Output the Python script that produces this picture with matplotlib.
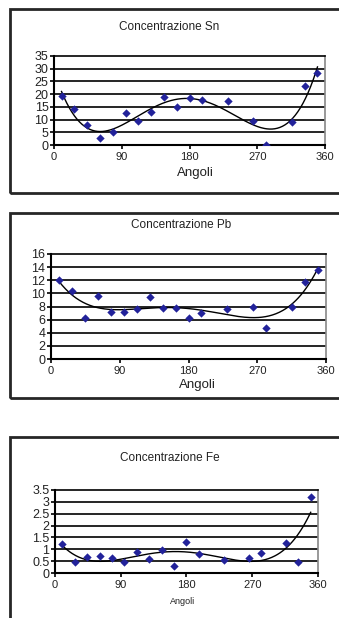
import numpy as np
import matplotlib
matplotlib.use('Agg')
import matplotlib.pyplot as plt
from matplotlib.patches import Rectangle

plt.rcParams['font.family'] = ['Liberation Sans', 'DejaVu Sans']

# ── data ──
angoli = [10, 27, 44, 61, 78, 95, 112, 129, 146, 163, 180, 197, 231, 265, 282, 316, 333, 350]
sn = [19.3, 14.2, 7.9, 2.7, 5.0, 12.7, 9.3, 13.0, 18.8, 15.0, 18.3, 17.8, 17.3, 9.5, 0.0, 9.2, 23.3, 28.2]
pb = [12.1, 10.4, 6.2, 9.6, 7.2, 7.1, 7.6, 9.4, 7.7, 7.8, 6.2, 7.0, 7.6, 8.0, 4.7, 7.9, 11.8, 13.5]
fe = [1.23, 0.45, 0.67, 0.71, 0.64, 0.48, 0.87, 0.60, 0.98, 0.31, 1.30, 0.80, 0.55, 0.64, 0.84, 1.26, 0.46, 3.22]

x_ticks = [0, 90, 180, 270, 360]
sn_ticks = [0, 5, 10, 15, 20, 25, 30, 35]
pb_ticks = [0, 2, 4, 6, 8, 10, 12, 14, 16]
fe_ticks = [0, 0.5, 1, 1.5, 2, 2.5, 3, 3.5]
fe_labels = ['0', '0.5', '1', '1.5', '2', '2.5', '3', '3.5']

W, H = 339, 618
fig = plt.figure(figsize=(W / 100, H / 100), dpi=100)
fig.patch.set_facecolor('white')


def px_axes(left, right, top, bottom):
    return fig.add_axes([left / W, 1 - bottom / H, (right - left) / W, (bottom - top) / H])


def frame(top, bottom):
    fig.patches.append(Rectangle((10 / W, 1 - bottom / H), 340 / W, (bottom - top) / H,
                                 transform=fig.transFigure, fill=False,
                                 edgecolor='#262626', linewidth=2.0))


def chart(box, vals, yticks, ylabels, title, title_xy, xlab_xy, xlab_size, degree=4):
    ax = px_axes(*box)
    ax.set_xlim(0, 360)
    ax.set_ylim(yticks[0], yticks[-1])
    ax.set_xticks(x_ticks)
    ax.set_yticks(yticks)
    ax.set_yticklabels(ylabels)
    ax.tick_params(axis='y', labelsize=9, length=3, width=1.2, pad=1, direction='out',
                   labelcolor='#222222')
    ax.tick_params(axis='x', labelsize=8, length=3, width=1.2, pad=2, direction='out',
                   labelcolor='#222222')
    for y in yticks[1:-1]:
        ax.axhline(y, color='black', linewidth=1.2, zorder=1)
    ax.spines['left'].set_linewidth(1.5)
    ax.spines['bottom'].set_linewidth(1.5)
    ax.spines['top'].set_linewidth(1.2)
    ax.spines['right'].set_color('#888888')
    ax.spines['right'].set_linewidth(1.2)

    ax.scatter(angoli, vals, marker='D', s=18, color='#22229a', zorder=3, linewidths=0)
    # polynomial trendline (order 4)
    coef = np.polyfit(angoli, vals, degree)
    xs = np.linspace(angoli[0], angoli[-1], 300)
    ax.plot(xs, np.polyval(coef, xs), color='black', linewidth=1.0, zorder=2)

    fig.text(title_xy[0] / W, 1 - title_xy[1] / H, title, fontsize=8.5,
             ha='center', va='center', color='#222222')
    fig.text(xlab_xy[0] / W, 1 - xlab_xy[1] / H, 'Angoli', fontsize=xlab_size,
             ha='center', va='center', color='#222222')
    return ax


frame(9, 193)
chart((54, 325, 56, 145), sn, sn_ticks, [str(t) for t in sn_ticks],
      'Concentrazione Sn', (169, 27), (195, 173), 9.5)

frame(213, 398)
chart((51, 326, 254, 359), pb, pb_ticks, [str(t) for t in pb_ticks],
      'Concentrazione Pb', (181, 225), (197, 385), 9.5)

frame(437, 640)
chart((55, 318, 490, 573), fe, fe_ticks, fe_labels,
      'Concentrazione Fe', (170, 458), (183, 602), 6.5)

fig.savefig('out.png', dpi=100)
